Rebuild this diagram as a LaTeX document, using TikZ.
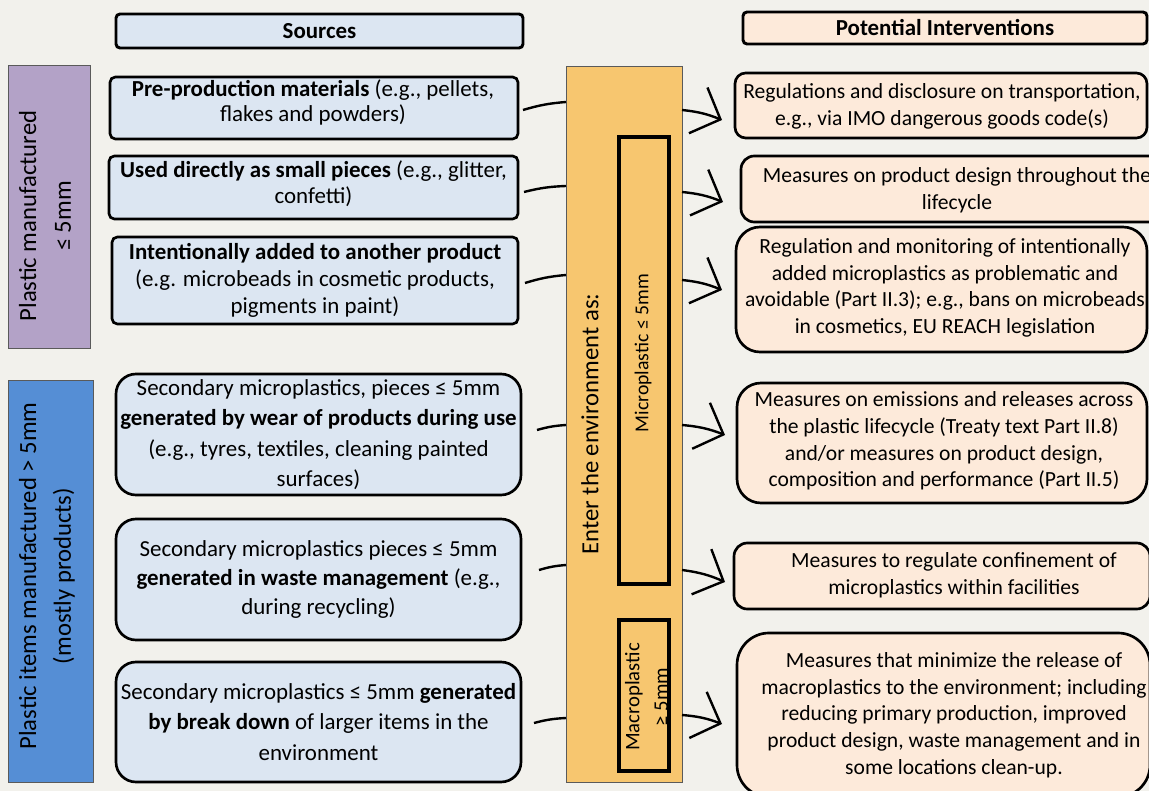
\documentclass[tikz,border=0pt]{standalone}
\usepackage{fontspec}
\setmainfont{Carlito}
\usetikzlibrary{arrows.meta,calc}
\definecolor{bg}{HTML}{F2F1EC}
\definecolor{lblue}{HTML}{DCE6F2}
\definecolor{peach}{HTML}{FDEADA}
\definecolor{purp}{HTML}{B3A2C7}
\definecolor{sblue}{HTML}{558ED5}
\definecolor{orng}{HTML}{F7C66F}
\definecolor{edgegray}{HTML}{5A5A5A}
\tikzset{
  every node/.style={inner sep=0pt, outer sep=0pt},
  bx/.style 2 args={minimum width=#1*0.75pt, minimum height=#2*0.75pt},
  hdr/.style={draw=black, line width=2.2pt, rounded corners=3pt, font=\fontsize{17.2}{20}\selectfont\bfseries},
  srcbox/.style={draw=black, line width=2pt, fill=lblue, align=center},
  intbox/.style={draw=black, line width=2pt, fill=peach},
  bodytxt/.style={align=center, font=\fontsize{16.2}{20}\selectfont},
  sidebar/.style={draw=edgegray, line width=0.7pt},
  sidetxt/.style={rotate=90, align=center, font=\fontsize{18.5}{26}\selectfont},
  inner/.style={draw=black, line width=2.5pt},
  conn/.style={draw=black, line width=1.8pt},
  arr/.style={draw=black, line width=1.8pt, -{Straight Barb[length=18pt, width=37pt, line width=1.8pt]}},
}
\begin{document}
\begin{tikzpicture}[x=0.75pt, y=-0.75pt]
\useasboundingbox (0,0) rectangle (1149,791);
\clip (0,0) rectangle (1149,791);
\fill[bg] (0,0) rectangle (1149,791);

% headers
\node[hdr, fill=lblue, bx={407}{34}] (hs) at (319.5,31) {Sources};
\node[hdr, fill=peach, bx={404}{32}] (hp) at (945,28) {Potential Interventions};

% side bars
\node[sidebar, fill=purp, bx={82}{283}] (pm) at (49,206.5) {};
\node[sidetxt] (pmt) at (45,216) {Plastic manufactured\\ ≤ 5mm};
\node[sidebar, fill=sblue, bx={85}{402}] (pi) at (50.5,581) {};
\node[sidetxt] (pit) at (47,576) {Plastic items manufactured > 5mm\\ (mostly products)};

% source boxes
\node[srcbox, rounded corners=4pt, bx={408}{62}] (b1) at (314,108) {};
\node[align=center, font=\fontsize{17.2}{18.5}\selectfont] (b1t) at (313,102.5)
  {\textbf{Pre-production materials} (e.g., pellets,\\ flakes and powders)};
\node[srcbox, rounded corners=4pt, bx={409}{63}] (b2) at (313.5,187.5) {};
\node[align=center, font=\fontsize{17.2}{19.5}\selectfont] (b2t) at (313.5,184)
  {\textbf{Used directly as small pieces} (e.g., glitter,\\ confetti)};
\node[srcbox, rounded corners=4pt, bx={406}{87}, font=\fontsize{17.2}{20.5}\selectfont] (b3) at (315,280.5)
  {\textbf{Intentionally added to another product}\\ (e.g. microbeads in cosmetic products,\\ pigments in paint)};
\node[srcbox, rounded corners=15pt, bx={405}{121}, font=\fontsize{17.2}{22.8}\selectfont] (b4) at (318.5,434.5)
  {Secondary microplastics, pieces ≤ 5mm\\ \textbf{generated by wear of products during use}\\ (e.g., tyres, textiles, cleaning painted\\ surfaces)};
\node[srcbox, rounded corners=15pt, bx={405}{121}, font=\fontsize{17.2}{22}\selectfont] (b5) at (318.5,579.5)
  {Secondary microplastics pieces ≤ 5mm\\ \textbf{generated in waste management} (e.g.,\\ during recycling)};
\node[srcbox, rounded corners=15pt, bx={405}{120}, font=\fontsize{17.2}{22.8}\selectfont] (b6) at (318.5,722)
  {Secondary microplastics ≤ 5mm \textbf{generated}\\ \textbf{by break down} of larger items in the\\ environment};

% orange column
\node[sidebar, fill=orng, bx={116}{716}] (ors) at (624,424) {};
\node[sidetxt, font=\fontsize{18.5}{26}\selectfont] (ent) at (590,424) {Enter the environment as:};
\node[inner, bx={50}{447}] (mic) at (644,360.5) {};
\node[rotate=90, font=\fontsize{14.8}{20}\selectfont] (mict) at (643,353) {Microplastic ≤ 5mm};
\node[inner, bx={50}{151}] (mac) at (644,695.5) {};
\node[rotate=90, align=center, font=\fontsize{15.5}{21.5}\selectfont] (mact) at (646.5,697) {Macroplastic\\ ≥ 5mm};

% intervention boxes
\node[intbox, rounded corners=8pt, bx={412}{65}] (r1) at (941,105.5) {};
\node[bodytxt] (r1t) at (942,106.5) {Regulations and disclosure on transportation,\\ e.g., via IMO dangerous goods code(s)};
\node[intbox, rounded corners=10pt, bx={429}{66}] (r2) at (955.5,189) {};
\node[bodytxt] (r2t) at (957,190) {Measures on product design throughout the\\ lifecycle};
\node[intbox, rounded corners=18pt, bx={411}{125}] (r3) at (941.5,289.5) {};
\node[bodytxt] (r3t) at (945,288) {Regulation and monitoring of intentionally\\ added microplastics as problematic and\\ avoidable (Part II.3); e.g., bans on microbeads\\ in cosmetics, EU REACH legislation};
\node[intbox, rounded corners=18pt, bx={410}{120}] (r4) at (942,443) {};
\node[bodytxt] (r4t) at (944,441) {Measures on emissions and releases across\\ the plastic lifecycle (Treaty text Part II.8)\\ and/or measures on product design,\\ composition and performance (Part II.5)};
\node[intbox, rounded corners=10pt, bx={416}{66}] (r5) at (942,576) {};
\node[bodytxt] (r5t) at (954,575.5) {Measures to regulate confinement of\\ microplastics within facilities};
\node[intbox, rounded corners=24pt, bx={413}{164}] (r6) at (943.5,715) {};
\node[bodytxt] (r6t) at (954,715) {Measures that minimize the release of\\ macroplastics to the environment; including\\ reducing primary production, improved\\ product design, waste management and in\\ some locations clean-up.};

% connectors into the column
\draw[conn] ($(b1.east)+(5,2)$) to[bend left=6] ($(b1.east -| ors.west)+(0,-6)$);
\draw[conn] ($(b2.east)+(6,4.5)$) to[bend left=6] ($(b2.east -| ors.west)+(0,-1.5)$);
\draw[conn] ($(b3.east)+(7,2.5)$) to[bend left=6] ($(b3.east -| ors.west)+(0,-5.5)$);
\draw[conn] ($(b4.east)+(16,-4.5)$) to[bend left=6] ($(b4.east -| ors.west)+(0,-9.5)$);
\draw[conn] ($(b5.east)+(18,-9.5)$) to[bend left=6] ($(b5.east -| ors.west)+(0,-14.5)$);
\draw[conn] ($(b6.east)+(13,1)$) to[bend left=6] ($(b6.east -| ors.west)+(0,-4)$);

% arrows out of the column
\draw[arr] ($(r1.west -| ors.east)+(0,4.5)$) to[bend left=8] ($(r1.west)+(-13,14.5)$);
\draw[arr] ($(r2.west -| ors.east)+(0,3)$) to[bend left=8] ($(r2.west)+(-18,13)$);
\draw[arr] ($(r3.west -| ors.east)+(0,-9.5)$) to[bend left=8] ($(r3.west)+(-14,0.5)$);
\draw[arr] ($(r4.west -| ors.east)+(0,-18)$) to[bend left=8] ($(r4.west)+(-12,-8)$);
\draw[arr] ($(r5.west -| ors.east)+(0,-6)$) to[bend left=8] ($(r5.west)+(-9,6)$);
\draw[arr] ($(r6.west -| ors.east)+(0,0)$) to[bend left=8] ($(r6.west)+(-15,9)$);
\end{tikzpicture}
\end{document}
